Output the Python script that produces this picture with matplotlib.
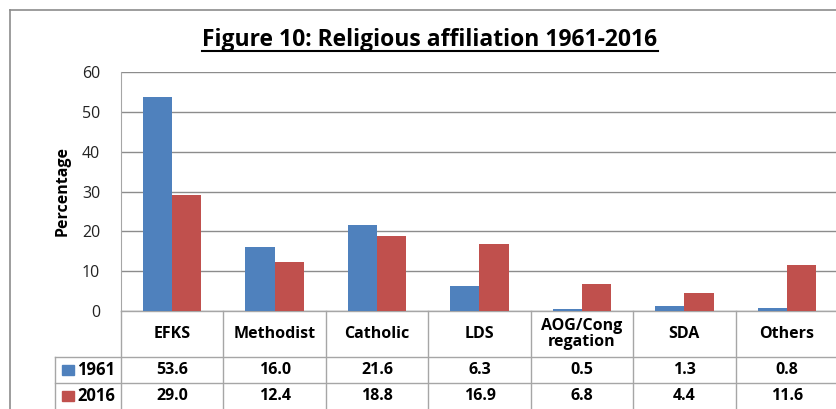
import matplotlib
matplotlib.use("Agg")
import matplotlib.pyplot as plt
import numpy as np
from matplotlib.patches import Rectangle
from matplotlib.lines import Line2D
from matplotlib.transforms import blended_transform_factory

categories = ["EFKS", "Methodist", "Catholic", "LDS", "AOG/Cong\nregation", "SDA", "Others"]
series_names = ["1961", "2016"]
values_1961 = [53.6, 16.0, 21.6, 6.3, 0.5, 1.3, 0.8]
values_2016 = [29.0, 12.4, 18.8, 16.9, 6.8, 4.4, 11.6]
yticks = [0, 10, 20, 30, 40, 50, 60]
title = "Figure 10: Religious affiliation 1961-2016"
ylabel = "Percentage"

colors = ["#4F81BD", "#C0504D"]
grid_c = "#8C8C8C"
tbl_c = "#A6A6A6"
FONT = "Open Sans"
plt.rcParams['font.family'] = [FONT, 'DejaVu Sans']

W, H = 837, 409
fig = plt.figure(figsize=(W / 100, H / 100), dpi=100)
fig.patch.set_facecolor("white")

def fx(px):
    return px / W

def fy(py):
    return 1 - py / H

# outer chart frame
fig.add_artist(Line2D([fx(10), fx(10)], [fy(10), fy(409)], color="#8C8C8C", lw=1.2))
fig.add_artist(Line2D([fx(10), fx(840)], [fy(10), fy(10)], color="#8C8C8C", lw=1.2))

left, right, top, bottom = 121, 838, 72, 311
ax = fig.add_axes([fx(left), fy(bottom), fx(right) - fx(left), fy(top) - fy(bottom)])

n = len(categories)
x = np.arange(n)
w = 0.285
ax.bar(x - w / 2, values_1961, width=w, color=colors[0], zorder=3)
ax.bar(x + w / 2, values_2016, width=w, color=colors[1], zorder=3)

ax.set_xlim(-0.5, n - 0.5)
ax.set_ylim(0, 60)
ax.set_yticks(yticks)
ax.set_yticklabels([str(t) for t in yticks], fontsize=11.5, color="#222222")
ax.tick_params(axis="y", length=0, pad=15)
ax.set_xticks([])
ax.yaxis.grid(True, color=grid_c, lw=1, zorder=0)
for s in ["top", "right", "bottom"]:
    ax.spines[s].set_visible(False)
ax.spines["left"].set_color(tbl_c)
ax.set_ylabel(ylabel, fontsize=11.5, fontweight="bold", labelpad=8)

# title with underline
t = fig.text(fx(430), fy(40), title, ha="center", va="center", fontsize=16.5, fontweight="bold")
fig.canvas.draw()
bb = t.get_window_extent(fig.canvas.get_renderer())
uy = bb.y0 + 1.5
fig.add_artist(Line2D([bb.x0 / W, bb.x1 / W], [uy / H, uy / H], color="black", lw=1.5))

# data table below axis
tr = blended_transform_factory(ax.transData, fig.transFigure)
for k in range(n + 1):
    xb = k - 0.5
    ax.add_line(Line2D([xb, xb], [fy(311), fy(409)], transform=tr, color=tbl_c, lw=1, clip_on=False))
ax.add_line(Line2D([-0.5, n - 0.5], [fy(311), fy(311)], transform=tr, color=tbl_c, lw=1, clip_on=False))
for yy in [357, 383]:
    fig.add_artist(Line2D([fx(55), fx(840)], [fy(yy), fy(yy)], color=tbl_c, lw=1))
fig.add_artist(Line2D([fx(55), fx(55)], [fy(357), fy(409)], color=tbl_c, lw=1))

for i, c in enumerate(categories):
    ax.text(i, fy(334), c, transform=tr, ha="center", va="center", fontsize=11.5, fontweight="bold",
            linespacing=1.0)
    ax.text(i, fy(370), f"{values_1961[i]:.1f}", transform=tr, ha="center", va="center",
            fontsize=11.5, fontweight="bold")
    ax.text(i, fy(396), f"{values_2016[i]:.1f}", transform=tr, ha="center", va="center",
            fontsize=11.5, fontweight="bold")

for j, (name, yc) in enumerate(zip(series_names, [370, 396])):
    fig.add_artist(Rectangle((fx(62), fy(yc + 5)), fx(12) - fx(0), (10 / H), color=colors[j]))
    fig.text(fx(77), fy(yc), name, ha="left", va="center", fontsize=12, fontweight="bold")

fig.savefig("out.png", dpi=100, facecolor="white")
